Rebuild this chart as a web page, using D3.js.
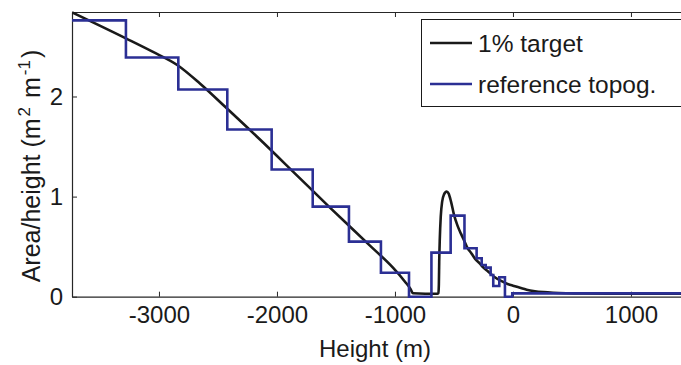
<!DOCTYPE html>
<html>
<head>
<meta charset="utf-8">
<script src="https://cdn.jsdelivr.net/npm/d3@7"></script>
<style>
  body { margin: 0; background: #fff; }
  svg { display: block; font-family: "Liberation Sans", Arial, sans-serif; }
</style>
</head>
<body>
<svg width="681" height="365"></svg>
<script>
// tick values
const heightTicks = [-3000, -2000, -1000, 0, 1000];
const areaTicks = [0, 1, 2];

// 1% target curve
const targetHeight = [-3737, -3280, -3059, -2839, -2653, -2424, -2144, -1864, -1551, -1212, -1017, -915, -870, -847,
  -640, -632, -628, -625, -620, -612, -600, -585, -562, -545, -525, -500, -470, -441, -410, -387, -350, -322, -280,
  -250, -209, -160, -96, -40, 0, 74, 116, 186, 260, 340, 450, 600, 800, 1100, 1424];
const targetArea = [2.84, 2.58, 2.45, 2.31, 2.13, 1.88, 1.57, 1.25, 0.89, 0.51, 0.29, 0.15, 0.08, 0.035,
  0.03, 0.035, 0.12, 0.35, 0.58, 0.80, 0.95, 1.02, 1.05, 1.03, 0.95, 0.82, 0.71, 0.63, 0.55, 0.49, 0.43, 0.38, 0.33,
  0.29, 0.25, 0.20, 0.155, 0.125, 0.11, 0.085, 0.07, 0.055, 0.046, 0.04, 0.035, 0.032, 0.031, 0.03, 0.03];

// reference topography, step edges + level of each step
const topoEdges = [-3737, -3280, -2836, -2421, -2045, -1697, -1390, -1119, -881, -691, -528, -411, -308, -265,
  -231, -189, -167, -116, -68, -6, 1424];
const topoLevels = [2.76, 2.39, 2.07, 1.67, 1.27, 0.90, 0.55, 0.24, 0.0, 0.44, 0.81, 0.484, 0.384, 0.317,
  0.29, 0.217, 0.107, 0.194, 0.0, 0.033];

const legendLabels = ["1% target", "reference topog."];
const colors = ["#1a1a1a", "#2b2f94"];

// plot box
const plotLeft = 72, plotRight = 681, plotTop = 12, plotBottom = 296.7;

const svg = d3.select("svg");

const x = d3.scaleLinear()
    .domain([-3737, 1424])
    .range([plotLeft, plotRight]);

const y = d3.scaleLinear()
    .domain([0, 2.844])
    .range([plotBottom, plotTop]);

svg.append("defs").append("clipPath").attr("id", "plotclip")
    .append("rect")
    .attr("x", plotLeft).attr("y", plotTop - 2)
    .attr("width", plotRight - plotLeft + 5).attr("height", plotBottom - plotTop + 4);

//Axes
const xAxis = svg.append("g")
    .attr("transform", "translate(0," + plotBottom + ")")
    .call(d3.axisBottom(x).tickValues(heightTicks).tickSizeInner(-5).tickSizeOuter(0).tickPadding(9)
        .tickFormat(d3.format("d")));

svg.append("g")
    .attr("transform", "translate(0," + plotTop + ")")
    .call(d3.axisTop(x).tickValues(heightTicks).tickSizeInner(-5).tickSizeOuter(0).tickFormat(""));

const yAxis = svg.append("g")
    .attr("transform", "translate(" + plotLeft + ",0)")
    .call(d3.axisLeft(y).tickValues(areaTicks).tickSizeInner(-5).tickSizeOuter(0).tickPadding(9)
        .tickFormat(d3.format("d")));

svg.selectAll(".domain").attr("stroke", "#262626").attr("stroke-width", 1.2);
svg.selectAll(".tick line").attr("stroke", "#262626");
svg.selectAll(".tick text")
    .attr("font-size", 24)
    .attr("font-family", "'Liberation Sans', Arial, sans-serif")
    .attr("fill", "#1a1a1a");
// plain hyphen like the original
xAxis.selectAll(".tick text").text(d => d < 0 ? "-" + Math.abs(d) : d);

//Données
const plot = svg.append("g").attr("clip-path", "url(#plotclip)");

const targetLine = d3.line()
    .x((d, i) => x(targetHeight[i]))
    .y((d, i) => y(targetArea[i]))
    .curve(d3.curveMonotoneX);

plot.append("path")
    .datum(targetHeight)
    .attr("d", targetLine)
    .attr("fill", "none")
    .attr("stroke", colors[0])
    .attr("stroke-width", 2.6);

const topoPoints = topoEdges.map((e, i) => [e, topoLevels[Math.min(i, topoLevels.length - 1)]]);

plot.append("path")
    .datum(topoPoints)
    .attr("d", d3.line().x(d => x(d[0])).y(d => y(d[1])).curve(d3.curveStepAfter))
    .attr("fill", "none")
    .attr("stroke", colors[1])
    .attr("stroke-width", 2.6);

//Légende
const legend = svg.append("g");
legend.append("rect")
    .attr("x", 421.5).attr("y", 19.5)
    .attr("width", 280).attr("height", 87)
    .attr("fill", "#fff")
    .attr("stroke", "#1a1a1a")
    .attr("stroke-width", 1);

const rowY = [43, 84];
legendLabels.forEach((label, i) => {
    legend.append("line")
        .attr("x1", 430).attr("x2", 472)
        .attr("y1", rowY[i]).attr("y2", rowY[i])
        .attr("stroke", colors[i]).attr("stroke-width", 2.6);
    legend.append("text")
        .attr("x", 478).attr("y", rowY[i] + 8.5)
        .attr("font-size", 24.5)
        .attr("fill", "#1a1a1a")
        .text(label);
});

//Titres
svg.append("text")
    .attr("x", 375).attr("y", 357)
    .attr("text-anchor", "middle")
    .attr("font-size", 24)
    .attr("fill", "#1a1a1a")
    .text("Height (m)");

const yTitle = svg.append("text")
    .attr("transform", "translate(40,166) rotate(-90)")
    .attr("text-anchor", "middle")
    .attr("font-size", 25)
    .attr("fill", "#1a1a1a");
yTitle.append("tspan").text("Area/height (m");
yTitle.append("tspan").attr("dx", 2).attr("dy", -10).attr("font-size", 17).text("2");
yTitle.append("tspan").attr("dx", 2).attr("dy", 10).text(" m");
yTitle.append("tspan").attr("dx", 2).attr("dy", -10).attr("font-size", 17).text("-1");
yTitle.append("tspan").attr("dx", 2).attr("dy", 10).text(")");
</script>
</body>
</html>
